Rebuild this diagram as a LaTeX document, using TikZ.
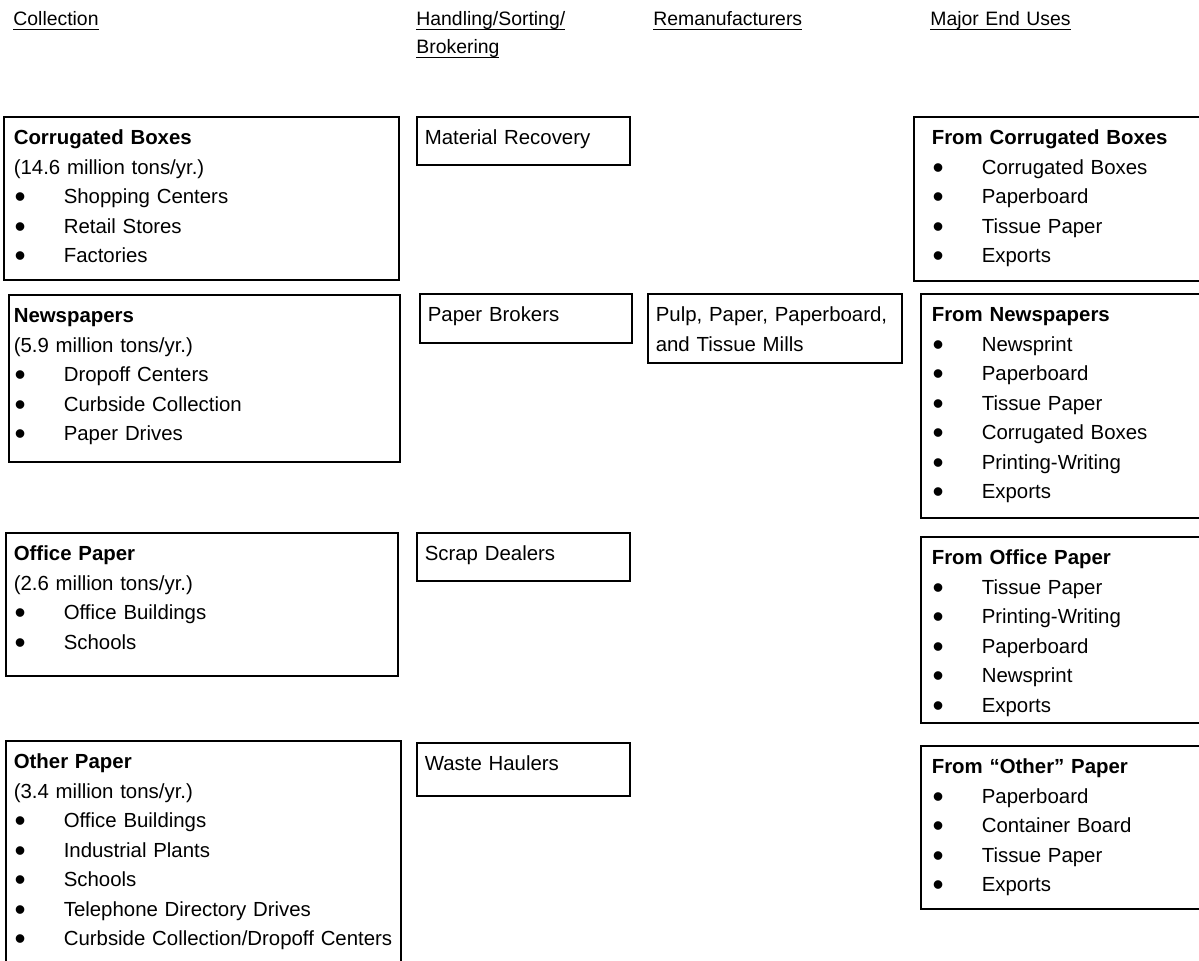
\documentclass[tikz,border=0pt]{standalone}
\usepackage{fontspec}
\setmainfont{Liberation Sans}
\usetikzlibrary{positioning}

% underline at one fixed depth, the way a word processor draws it
\newcommand{\colhead}[1]{\leavevmode\setbox0=\hbox{#1}\rlap{\rule[-2.6pt]{\wd0}{0.6pt}}\box0}
% bullet with a hanging indent
\newcommand{\itm}{\makebox[25pt][l]{\hspace{0.4pt}\raisebox{-2pt}{\scalebox{1.55}{\textbullet}}}}

\begin{document}
\begin{tikzpicture}[x=0.5pt, y=-0.5pt]
		\tikzstyle{column_head} = [anchor=base west, inner sep=0pt, align=left, text width=90pt, font=\fontsize{9.7pt}{14pt}\selectfont]
		\tikzstyle{flow_box} = [rectangle, draw, line width=0.8pt, anchor=north west, align=left, inner xsep=4pt, inner ysep=3pt, text height=11pt, font=\fontsize{10.2pt}{14.75pt}\selectfont]

		\useasboundingbox (0,0) rectangle (1199,960);
		\clip (0,0) rectangle (1199,960);

		% Column titles
		\node (coll_head) [column_head] at (13,25) {\colhead{Collection}};
		\node (hand_head) [column_head] at (416,25) {\colhead{Handling/Sorting/}\\\colhead{Brokering}};
		\node (reman_head) [column_head] at (653,25) {\colhead{Remanufacturers}};
		\node (uses_head) [column_head] at (930,25) {\colhead{Major End Uses}};

		% Collection
		\node (corrugated) [flow_box, inner xsep=5pt, text width=187.5pt, text depth=64.5pt] at (3,116)
			{\textbf{Corrugated Boxes}\\(14.6 million tons/yr.)\\\itm Shopping Centers\\\itm Retail Stores\\\itm Factories};
		\node (newspapers) [flow_box, inner xsep=2.5pt, text width=190.5pt, text depth=66.5pt] at (8,294)
			{\textbf{Newspapers}\\(5.9 million tons/yr.)\\\itm Dropoff Centers\\\itm Curbside Collection\\\itm Paper Drives};
		\node (office) [flow_box, text width=188pt, text depth=54.5pt] at (5,532)
			{\textbf{Office Paper}\\(2.6 million tons/yr.)\\\itm Office Buildings\\\itm Schools};
		\node (other) [flow_box, text width=189.5pt, text depth=103pt] at (5,740)
			{\textbf{Other Paper}\\(3.4 million tons/yr.)\\\itm Office Buildings\\\itm Industrial Plants\\\itm Schools\\\itm Telephone Directory Drives\\\itm \mbox{Curbside Collection/Dropoff Centers}};

		% Handling, sorting and brokering
		\node (recovery) [flow_box, text width=98.5pt, text depth=7pt] at (416,116) {Material Recovery};
		\node (brokers) [flow_box, text width=98pt, text depth=7.5pt] at (419,293) {Paper Brokers};
		\node (scrap) [flow_box, text width=98.5pt, text depth=7pt] at (416,532) {Scrap Dealers};
		\node (haulers) [flow_box, text width=98.5pt, text depth=9.5pt] at (416,742) {Waste Haulers};

		% Remanufacturers
		\node (mills) [flow_box, text width=119pt, text depth=17.5pt] at (647,293) {Pulp, Paper, Paperboard,\\and Tissue Mills};

		% Major end uses
		\node (use_corrugated) [flow_box, inner xsep=9pt, text width=137.5pt, text depth=65pt] at (913,116)
			{\textbf{From Corrugated Boxes}\\\itm Corrugated Boxes\\\itm Paperboard\\\itm Tissue Paper\\\itm Exports};
		\node (use_newspapers) [flow_box, inner xsep=5.5pt, text width=137.5pt, text depth=95pt] at (920,293)
			{\textbf{From Newspapers}\\\itm Newsprint\\\itm Paperboard\\\itm Tissue Paper\\\itm Corrugated Boxes\\\itm Printing-Writing\\\itm Exports};
		\node (use_office) [flow_box, inner xsep=5.5pt, text width=137.5pt, text depth=76pt] at (920,536)
			{\textbf{From Office Paper}\\\itm Tissue Paper\\\itm Printing-Writing\\\itm Paperboard\\\itm Newsprint\\\itm Exports};
		\node (use_other) [flow_box, inner xsep=5.5pt, text width=137.5pt, text depth=64.5pt] at (920,745)
			{\textbf{From “Other” Paper}\\\itm Paperboard\\\itm Container Board\\\itm Tissue Paper\\\itm Exports};
\end{tikzpicture}
\end{document}
